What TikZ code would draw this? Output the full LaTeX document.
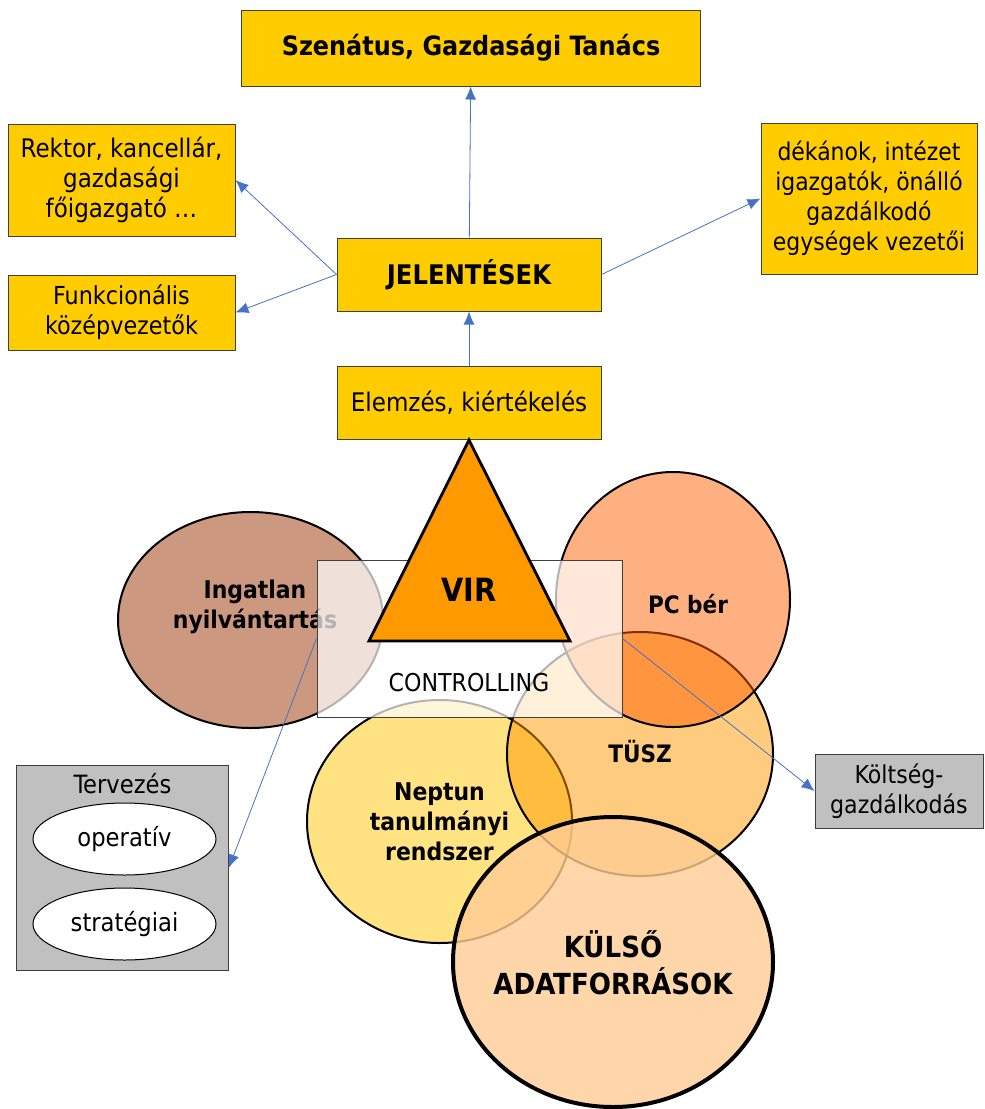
\documentclass[tikz,border=0pt]{standalone}
\usepackage{fontspec}
\setmainfont{DejaVu Sans Condensed}
\usetikzlibrary{calc,arrows,arrows.meta,positioning,shapes.geometric}

\definecolor{boxyellow}{RGB}{255,204,0}
\definecolor{boxgrey}{RGB}{192,192,192}
\definecolor{arrowblue}{RGB}{68,114,196}
\definecolor{ingatlanc}{RGB}{204,153,128}
\definecolor{pcberc}{RGB}{255,97,1}
\definecolor{tuszc}{RGB}{255,153,0}
\definecolor{neptunc}{RGB}{255,226,130}
\definecolor{kulsoc}{RGB}{255,204,149}
\definecolor{virc}{RGB}{255,153,0}

\begin{document}
\begin{tikzpicture}[x=0.5pt,y=-0.5pt]
	\tikzstyle{block} = [draw=black!75, line width=0.5pt, fill=boxyellow, align=center, inner sep=0pt, font=\fontsize{12.8}{15}\selectfont]
	\tikzstyle{greybox} = [block, fill=boxgrey]
	\tikzstyle{bubble} = [ellipse, draw=black, line width=1pt, inner sep=0pt]
	\tikzstyle{bubbletext} = [align=center, font=\bfseries\fontsize{12.2}{15}\selectfont]
	\tikzstyle{link} = [-{Latex[length=6.5pt,width=5.5pt]},draw=arrowblue,line width=0.4pt]
	\useasboundingbox (0,0) rectangle (985,1109);

	% reporting boxes
	\node[block, minimum width=132pt, minimum height=36.5pt, font=\bfseries\fontsize{13.5}{15}\selectfont] (jel) at (469,274.5) {JELENTÉSEK};
	\node[block, minimum width=132pt, minimum height=36.5pt, below=27pt of jel] (elemz) {Elemzés, kiértékelés};
	\node[block, minimum width=229.5pt, minimum height=38pt, font=\bfseries\fontsize{13.3}{16}\selectfont] (senat) at (471,48) {Szenátus, Gazdasági Tanács};
	\node[block, minimum width=113.5pt, minimum height=56pt] (rektor) at (121.5,180) {Rektor, kancellár,\\gazdasági\\főigazgató \dots};
	\node[block, minimum width=113.5pt, minimum height=37.5pt, font=\fontsize{12.4}{15}\selectfont] (funk) at (121.5,312.5) {Funkcionális\\középvezetők};
	\node[block, minimum width=108pt, minimum height=75.5pt, font=\fontsize{12.2}{15}\selectfont] (dekan) at (869,198.5) {dékánok, intézet\\igazgatók, önálló\\gazdálkodó\\egységek vezetői};

	\draw[link] (elemz) -- (jel);
	\draw[link] (jel) -- (senat);
	\draw[link] (jel.west) -- (rektor.east);
	\draw[link] (jel.west) -- (funk.east);
	\draw[link] (jel.east) -- (dekan.west);

	% systems
	\node[bubble, fill=ingatlanc, minimum width=132.5pt, minimum height=108pt] (ingatlan) at (250.5,620) {};
	\node[bubbletext] (ingatlantxt) at (255,607) {Ingatlan\\nyilvántartás};
	\node[bubble, fill=neptunc, minimum width=132.5pt, minimum height=121.5pt] (neptun) at (439.5,821.5) {};
	\node[bubbletext] (neptuntxt) at (439.5,822) {Neptun\\tanulmányi\\rendszer};
	\node[bubble, fill=tuszc, fill opacity=0.5, minimum width=133pt, minimum height=122pt] (tusz) at (640,754) {};
	\node[bubbletext, font=\bfseries\fontsize{12}{15}\selectfont] (tusztxt) at (640,752) {TÜSZ};
	\node[bubble, fill=pcberc, fill opacity=0.5, minimum width=117pt, minimum height=127.5pt] (pcber) at (673,599.5) {};
	\node[bubbletext, font=\bfseries\fontsize{12}{15}\selectfont] (pcbertxt) at (688,604) {PC bér};
	\node[bubble, fill=kulsoc, fill opacity=0.8, line width=2pt, minimum width=160pt, minimum height=145pt] (kulso) at (613,962) {};
	\node[bubbletext, font=\bfseries\fontsize{14.5}{18.5}\selectfont] (kulsotxt) at (613,963) {KÜLSŐ\\ADATFORRÁSOK};

	% controlling
	\node[draw=black!75, line width=0.5pt, fill=white, fill opacity=0.7, text opacity=1, minimum width=152.5pt, minimum height=78.5pt, inner sep=0pt] (ctrl) at (469.5,638.5) {};
	\node[font=\fontsize{12.3}{14}\selectfont] (ctrltxt) at (469,683) {CONTROLLING};
	\coordinate (virtop) at (469,440);
	\coordinate (virright) at (570,641);
	\coordinate (virleft) at (369,641);
	\draw[fill=virc, line width=1.4pt, line join=miter] (virtop) -- (virright) -- (virleft) -- cycle;
	\node[font=\bfseries\fontsize{16}{18}\selectfont] (virtxt) at (469,590) {VIR};

	% planning and costs
	\node[greybox, minimum width=106pt, minimum height=102.5pt] (terv) at (122.5,867.5) {};
	\node[font=\fontsize{12.6}{14}\selectfont] (tervtxt) at (122.5,784) {Tervezés};
	\node[ellipse, draw=black, line width=0.5pt, fill=white, minimum width=91.5pt, minimum height=36pt, inner sep=0pt, font=\fontsize{12.6}{14}\selectfont] (oper) at (124.5,839) {operatív};
	\node[ellipse, draw=black, line width=0.5pt, fill=white, minimum width=91.5pt, minimum height=36pt, inner sep=0pt, font=\fontsize{12.6}{14}\selectfont] (strat) at (124.5,924) {stratégiai};
	\node[greybox, minimum width=84pt, minimum height=37pt, font=\fontsize{12.3}{15}\selectfont] (kolt) at (899,791) {Költség-\\gazdálkodás};

	\draw[link] (ctrl.west) -- (terv.east);
	\draw[link] (ctrl.east) -- (kolt.west);
\end{tikzpicture}
\end{document}
